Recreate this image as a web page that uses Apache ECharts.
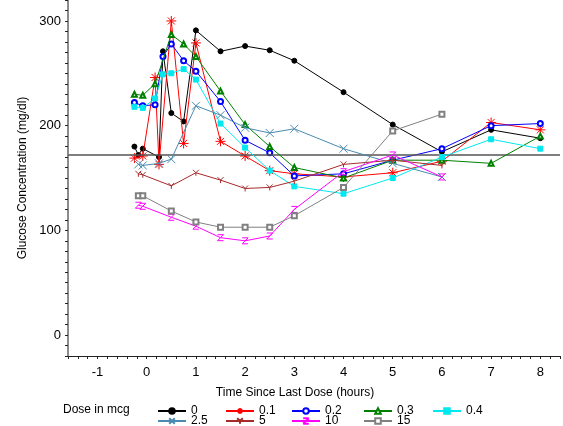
<!DOCTYPE html>
<html>
<head>
<meta charset="utf-8">
<script src="https://cdn.jsdelivr.net/npm/echarts@6/dist/echarts.min.js"></script>
<style>
    html, body { margin: 0; padding: 0; background: #fff; }
    #chart { width: 563px; height: 426px; }
</style>
</head>
<body>
<div id="chart"></div>
<script>
//剂量分组（mcg）
var doseNames = ['0', '0.1', '0.2', '0.3', '0.4', '2.5', '5', '10', '15'];

//各组时间点（小时）与血糖值（mg/dl）
var t0 = [-0.25, -0.17, -0.08, 0.25, 0.33, 0.5, 0.75, 1, 1.5, 2, 2.5, 3, 4, 5, 6, 7, 8];
var g0 = [180, 172, 178, 170, 271, 212, 204, 291, 271, 276, 272, 262, 232, 201, 175, 196, 188];

var t01 = [-0.25, -0.08, 0.17, 0.25, 0.5, 0.75, 1, 1.5, 2, 2.5, 3, 4, 5, 6, 7, 8];
var g01 = [169, 171, 246, 163, 300, 183, 279, 185, 171, 157, 154, 151, 155, 166, 203, 196];

var t02 = [-0.25, -0.08, 0.17, 0.33, 0.5, 0.75, 1, 1.5, 2, 2.5, 3, 4, 5, 6, 7, 8];
var g02 = [222, 219, 220, 266, 278, 262, 252, 223, 186, 174, 152, 154, 167, 178, 200, 202];

var t03 = [-0.25, -0.08, 0.17, 0.5, 0.75, 1, 1.5, 2, 2.5, 3, 4, 5, 6, 7, 8];
var g03 = [230, 229, 240, 287, 278, 266, 233, 201, 180, 160, 150, 167, 167, 164, 190];

var t04 = [-0.25, -0.08, 0.17, 0.33, 0.5, 0.75, 1, 1.5, 2, 2.5, 3, 4, 5, 6, 7, 8];
var g04 = [218, 217, 226, 249, 250, 254, 244, 202, 179, 157, 142, 135, 150, 170, 187, 178];

var t25 = [-0.17, -0.08, 0.25, 0.5, 1, 1.5, 2, 2.5, 3, 4, 5, 6];
var g25 = [163, 162, 164, 168, 219, 210, 198, 193, 197, 178, 164, 151];

var t5 = [-0.17, -0.08, 0.5, 1, 1.5, 2, 2.5, 3, 4, 5, 6];
var g5 = [154, 153, 142.5, 155, 148, 140, 141, 147, 163, 167, 162];

var t10 = [-0.17, -0.08, 0.5, 1, 1.5, 2, 2.5, 3, 4, 5, 6];
var g10 = [124, 123, 112.5, 104, 93, 90, 94.6, 120, 156, 172, 151];

var t15 = [-0.17, -0.08, 0.5, 1, 1.5, 2, 2.5, 3, 4, 5, 6];
var g15 = [133, 133, 118.5, 108, 103, 103, 103, 114, 141, 195, 211];

//参考线
var refLevel = 172;

var times = [t0, t01, t02, t03, t04, t25, t5, t10, t15];
var glucose = [g0, g01, g02, g03, g04, g25, g5, g10, g15];

var colors = ['#000000', '#ff0000', '#0000ff', '#008000', '#00e8f0', '#4a8ab0', '#a52a2a', '#ff00ff', '#808080'];
var symbols = [
    'circle',
    'path://M5 0 L5 10 M0 5 L10 5 M1.5 1.5 L8.5 8.5 M8.5 1.5 L1.5 8.5',
    'emptyCircle',
    'emptyTriangle',
    'rect',
    'path://M0 0 L10 10 M10 0 L0 10',
    'path://M0 0 L5 5 M10 0 L5 5 M5 5 L5 10',
    'path://M0 0 L10 0 M10 0 L0 10 M0 10 L10 10',
    'emptyRect'
];
var symbolSizes = [5, 10, 5, 5, 5, 8, 6, 6, 5];

var font = 'Liberation Sans, Arial, sans-serif';

function pairs(t, g) {
    var out = [];
    for (var i = 0; i < t.length; i++) out.push([t[i], g[i]]);
    return out;
}
function isWhole(v, step) {
    var k = v / step;
    return Math.abs(k - Math.round(k)) < 1e-6;
}

var series = doseNames.map(function (name, i) {
    var s = {
        name: name,
        type: 'line',
        data: pairs(times[i], glucose[i]),
        symbol: symbols[i],
        symbolSize: symbolSizes[i],
        showAllSymbol: true,
        lineStyle: { color: colors[i], width: 1 },
        itemStyle: { color: colors[i], borderColor: colors[i], borderWidth: 1 },
        emphasis: { disabled: true },
        z: 2 + i
    };
    if (i === 0) {
        s.markLine = {
            silent: true,
            symbol: 'none',
            label: { show: false },
            lineStyle: { color: '#555', width: 1.5, type: 'solid' },
            data: [{ yAxis: refLevel }]
        };
    }
    return s;
});

//图例：每项单独定位，两行五列
var legendCols = [157, 225, 291, 363, 432];
var legendRows = [405, 415];
var legends = doseNames.map(function (name, i) {
    return {
        data: [name],
        left: legendCols[i % 5],
        top: legendRows[Math.floor(i / 5)],
        itemWidth: 28,
        itemHeight: 7,
        padding: 0,
        textStyle: { fontSize: 12, color: '#000', fontFamily: font }
    };
});

var chart = echarts.init(document.getElementById('chart'));
chart.setOption({
    animation: false,
    textStyle: { fontFamily: font },
    grid: { left: 68, right: 1, top: 0, bottom: 70 },
    xAxis: {
        type: 'value',
        min: -1.6,
        max: 8.4,
        interval: 0.2,
        name: 'Time Since Last Dose (hours)',
        nameLocation: 'middle',
        nameGap: 31,
        nameTextStyle: { fontSize: 12, color: '#000', fontFamily: font, padding: [0, 38, 0, 0] },
        axisLine: { onZero: false, lineStyle: { color: '#222', width: 1 } },
        axisTick: { show: true, length: 3, lineStyle: { color: '#222' } },
        axisLabel: {
            fontSize: 13, color: '#000', margin: 10,
            formatter: function (v) { return isWhole(v, 1) ? String(Math.round(v)) : ''; }
        },
        splitLine: { show: false }
    },
    yAxis: {
        type: 'value',
        min: -20,
        max: 320,
        interval: 10,
        name: 'Glucose Concentration (mg/dl)',
        nameLocation: 'middle',
        nameGap: 27,
        nameTextStyle: { fontSize: 12, color: '#000', fontFamily: font },
        axisLine: { show: true, onZero: false, lineStyle: { color: '#666', width: 1.5 } },
        axisTick: { show: true, length: 3, lineStyle: { color: '#222' } },
        axisLabel: {
            fontSize: 13, color: '#000', margin: 7,
            formatter: function (v) { return isWhole(v, 100) ? String(Math.round(v)) : ''; }
        },
        splitLine: { show: false }
    },
    legend: legends,
    graphic: [{
        type: 'text',
        left: 63,
        top: 404,
        style: { text: 'Dose in mcg', fontSize: 12, fill: '#000', fontFamily: font }
    }],
    series: series
});
</script>
</body>
</html>
